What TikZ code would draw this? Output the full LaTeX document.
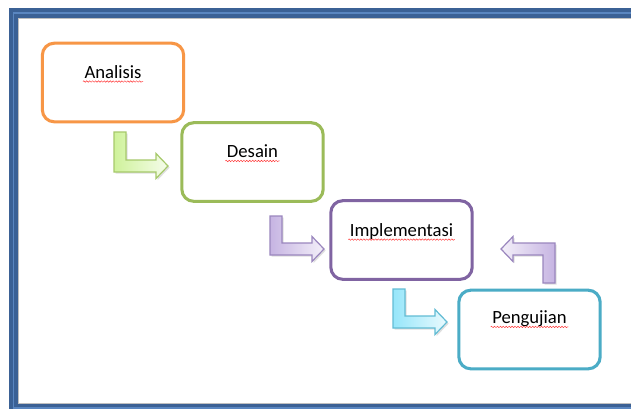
\documentclass[tikz,border=0pt]{standalone}
\usepackage{fontspec}
\setmainfont{Carlito}
\usetikzlibrary{calc,shadows,decorations.pathmorphing}

\definecolor{frmDark}{HTML}{3B6195}
\definecolor{frmLite}{HTML}{5A86C0}
\definecolor{ornLine}{HTML}{F79646}
\definecolor{grnLine}{HTML}{9BBB59}
\definecolor{vioLine}{HTML}{8064A2}
\definecolor{cynLine}{HTML}{4BACC6}
\definecolor{grnFill}{HTML}{CFF29B}
\definecolor{grnEdge}{HTML}{A6C96A}
\definecolor{vioFill}{HTML}{C6B4E2}
\definecolor{vioEdge}{HTML}{9A86BE}
\definecolor{cynFill}{HTML}{96E6FA}
\definecolor{cynEdge}{HTML}{62BCD4}

\tikzset{
  stage/.style={draw=#1,line width=2.3pt,rounded corners=9pt,fill=white,
                minimum width=106pt,minimum height=59pt,inner sep=0pt},
  lbl/.style={font=\fontsize{14}{17}\selectfont,inner sep=1pt},
  wavy/.style={draw=red!80,line width=.35pt,decorate,
               decoration={snake,amplitude=.55pt,segment length=2.2pt}},
  blk/.style={draw=#1Edge,line width=.9pt,line join=miter,
              drop shadow={shadow xshift=1.2pt,shadow yshift=-1.2pt,opacity=.25}},
  blkR/.style={blk=#1,left color=#1Fill,right color=#1Fill!20},
  blkL/.style={blk=#1,right color=#1Fill,left color=#1Fill!20},
}

% bent block arrow: style, stem end, tip, head offset (-12 right, 12 left)
\newcommand{\bentarrow}[4]{%
  \draw[#1] ($(#2)+(-6,0)$) -- ($(#2)+(6,0)$) |- ($(#3)+(#4,-6)$) -- ++(0,-6.5)
    -- (#3) -- ($(#3)+(#4,12.5)$) -- ++(0,-6.5) -| ($(#2)+(-6,0)$) -- cycle;}

\begin{document}
\begin{tikzpicture}[x=0.75pt,y=-0.75pt]
  \useasboundingbox (0,0) rectangle (631,408);
  \fill[white] (0,0) rectangle (631,408);
  % frame
  \draw[frmDark,line width=7.5pt] (13.5,13) rectangle (645,408);
  \draw[frmLite,line width=1.3pt] (13.5,13) rectangle (645,408);
  \draw[black!25,line width=.5pt] (18.5,18) rectangle (640,403);

  \node[stage=ornLine] (ana) at (113,82.5)  {};
  \node[stage=grnLine] (des) at (252.5,162) {};
  \node[stage=vioLine] (imp) at (401.5,240) {};
  \node[stage=cynLine] (pen) at (529.5,329.5) {};

  \node[lbl] (anaT) at ($(ana.north)+(0,30)$) {Analisis};
  \node[lbl] (desT) at ($(des.north)+(0,30)$) {Desain};
  \node[lbl] (impT) at ($(imp.north)+(0,32)$) {Implementasi};
  \node[lbl] (penT) at ($(pen.north)+(0,30)$) {Pengujian};
  \foreach \t in {anaT,desT,impT,penT}
    \draw[wavy] ([yshift=-2.6pt]\t.base west) -- ([yshift=-2.6pt]\t.base east);

  \coordinate (a1s) at (120,132); \coordinate (a1t) at (168,166);
  \coordinate (a2s) at (276,216); \coordinate (a2t) at (324,249);
  \coordinate (a3s) at (399,289); \coordinate (a3t) at (447,322);
  \coordinate (a4s) at (549,283); \coordinate (a4t) at (501,249);
  \bentarrow{blkR=grn}{a1s}{a1t}{-12}
  \bentarrow{blkR=vio}{a2s}{a2t}{-12}
  \bentarrow{blkR=cyn}{a3s}{a3t}{-12}
  \bentarrow{blkL=vio}{a4s}{a4t}{12}
\end{tikzpicture}
\end{document}
